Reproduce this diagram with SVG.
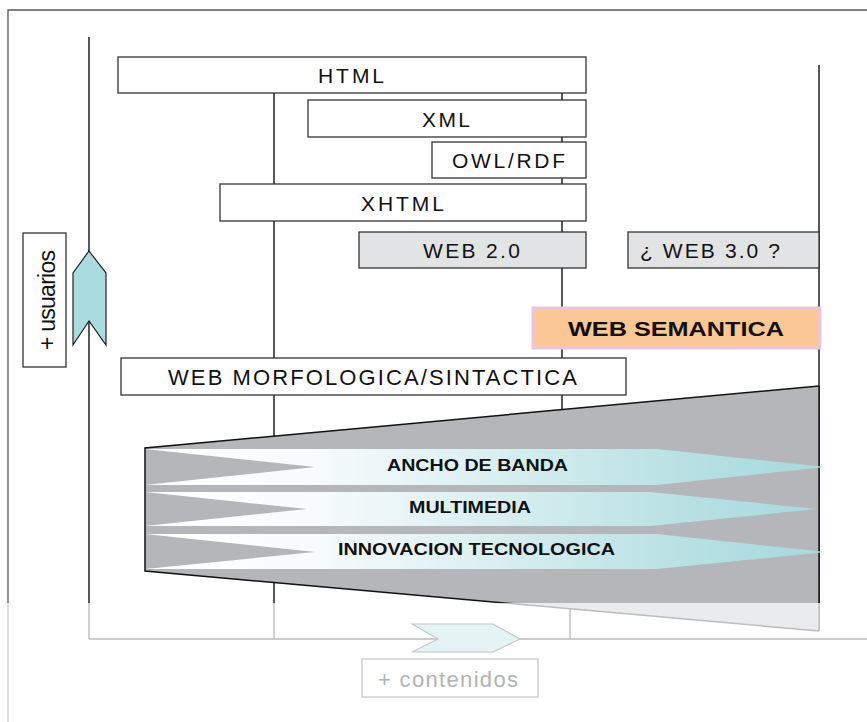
<svg xmlns="http://www.w3.org/2000/svg" width="867" height="722" viewBox="0 0 867 722">
<defs>
<style>
text{font-family:"Liberation Sans",Arial,sans-serif;fill:#111}
.lbl{font-size:21px}
.bold{font-weight:bold;font-size:17px}
.box{fill:#fff;stroke:#333;stroke-width:1.3}
.gbox{fill:#e2e3e5;stroke:#333;stroke-width:1.3}
.ln{stroke:#111;stroke-width:1.4;fill:none}
.band{fill:url(#bandGrad)}
</style>
<linearGradient id="bandGrad" gradientUnits="userSpaceOnUse" x1="145" y1="0" x2="826" y2="0">
<stop offset="0" stop-color="#ffffff"/>
<stop offset="0.25" stop-color="#f7fbfc"/>
<stop offset="0.55" stop-color="#d5edef"/>
<stop offset="0.8" stop-color="#b7e0e3"/>
<stop offset="1" stop-color="#a6d9dd"/>
</linearGradient>
</defs>
<rect x="0" y="0" width="867" height="722" fill="#fff"/>
<path d="M8,722 V10 H867" fill="none" stroke="#555" stroke-width="1.3"/>
<g id="connectors">
<line class="ln" x1="89" y1="37" x2="89" y2="639"/>
<line class="ln" x1="274" y1="93" x2="274" y2="639"/>
<line class="ln" x1="562" y1="93" x2="562" y2="420"/>
<line class="ln" x1="819" y1="65" x2="819" y2="631"/>
<line class="ln" x1="570" y1="606" x2="570" y2="639"/>
<line class="ln" x1="89" y1="639" x2="867" y2="639"/>
</g>
<g id="funnel">
<polygon points="145,448 819,386 819,631 145,571" fill="#b5b6b9"/>
<polyline points="819,386 145,448 145,571 819,631" fill="none" stroke="#111" stroke-width="1.5"/>
<line class="ln" x1="819" y1="386" x2="819" y2="631"/>
</g>
<g id="band-ancho">
<polygon class="band" points="145,449 657,449 826,467 657,485 145,485 315,467"/>
<text class="bold" x="387" y="471" textLength="181" lengthAdjust="spacingAndGlyphs">ANCHO DE BANDA</text>
</g>
<g id="band-multimedia">
<polygon class="band" points="145,492 650,492 817,509 650,526 145,526 307,509"/>
<text class="bold" x="409" y="513" textLength="122" lengthAdjust="spacingAndGlyphs">MULTIMEDIA</text>
</g>
<g id="band-innovacion">
<polygon class="band" points="145,534 657,534 826,552 657,569 145,569 315,552"/>
<text class="bold" x="338" y="555" textLength="277" lengthAdjust="spacingAndGlyphs">INNOVACION TECNOLOGICA</text>
</g>
<g id="html">
<rect class="box" x="118" y="57" width="468" height="36"/>
<text class="lbl" x="318" y="83" textLength="66" lengthAdjust="spacing">HTML</text>
</g>
<g id="xml">
<rect class="box" x="308" y="100" width="278" height="37"/>
<text class="lbl" x="422" y="127" textLength="48" lengthAdjust="spacing">XML</text>
</g>
<g id="owl">
<rect class="box" x="432" y="142" width="154" height="36"/>
<text class="lbl" x="452" y="168" textLength="113" lengthAdjust="spacing">OWL/RDF</text>
</g>
<g id="xhtml">
<rect class="box" x="220" y="184" width="366" height="37"/>
<text class="lbl" x="361" y="211" textLength="83" lengthAdjust="spacing">XHTML</text>
</g>
<g id="web20">
<rect class="gbox" x="359" y="232" width="227" height="36"/>
<text class="lbl" x="423" y="258" textLength="97" lengthAdjust="spacing">WEB 2.0</text>
</g>
<g id="web30">
<rect class="gbox" x="628" y="232" width="191" height="36"/>
<text class="lbl" x="640" y="258" textLength="140" lengthAdjust="spacing">¿ WEB 3.0 ?</text>
</g>
<g id="semantica">
<rect x="533" y="308" width="287" height="40" fill="#fcc797" stroke="#e8c4de" stroke-width="3"/>
<text x="568" y="336" font-size="21" font-weight="bold" textLength="216" lengthAdjust="spacingAndGlyphs">WEB SEMANTICA</text>
</g>
<g id="morfologica">
<rect class="box" x="121" y="358" width="505" height="37"/>
<text x="168" y="385" font-size="22" textLength="409" lengthAdjust="spacing">WEB MORFOLOGICA/SINTACTICA</text>
</g>
<g id="usuarios">
<rect class="box" x="23" y="233" width="43" height="134"/>
<text transform="translate(55,300) rotate(-90)" x="0" y="0" font-size="23" text-anchor="middle" textLength="100" lengthAdjust="spacing">+ usuarios</text>
</g>
<g id="arrow-up">
<polygon points="89,251 106,273 106,345 89,321 73,345 73,273" fill="#aadcdf" stroke="#111" stroke-width="1.1"/>
</g>
<rect x="0" y="603" width="867" height="119" fill="#fff" fill-opacity="0.72"/>
<g id="arrow-right">
<polygon points="412,624 493,624 520,639 493,652 412,652 438,639" fill="#e4f3f4" stroke="#c5c5c5" stroke-width="1.1"/>
</g>
<g id="contenidos">
<rect x="362" y="659" width="176" height="38" fill="#fff" stroke="#c8c8c8" stroke-width="1.3"/>
<text x="378" y="687" font-size="22" style="fill:#b3b3b3" textLength="140" lengthAdjust="spacing">+ contenidos</text>
</g>
</svg>
